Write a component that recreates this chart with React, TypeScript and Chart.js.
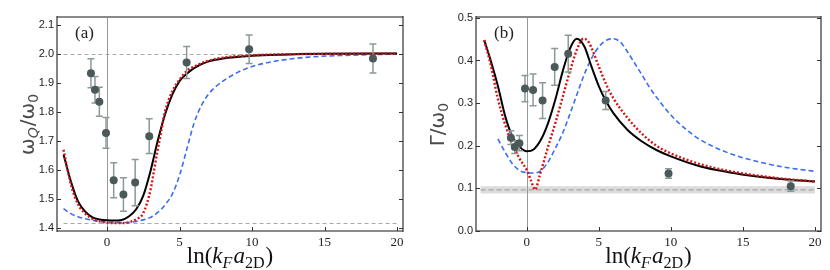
import React, { useEffect, useRef } from "react";
import { Chart, registerables } from "chart.js";
Chart.register(...registerables);

// ---------- Panel (a) data ----------
const A_EXP_X = [-1.11, -0.83, -0.53, -0.07, 0.46, 1.13, 1.94, 2.91, 5.49, 9.8, 18.34];
const A_EXP_Y = [1.932, 1.875, 1.834, 1.726, 1.563, 1.514, 1.555, 1.715, 1.969, 2.015, 1.983];
const A_EXP_ERR = [0.05, 0.046, 0.05, 0.053, 0.06, 0.058, 0.08, 0.06, 0.055, 0.049, 0.05];

const A_BLACK_X = [-3, -2.5, -2, -1.5, -1, -0.5, 0, 0.5, 1, 1.5, 2, 2.5, 3, 3.5, 4, 4.5, 5, 5.5, 6, 7, 8, 10, 12, 15, 20];
const A_BLACK_Y = [1.652, 1.56, 1.49, 1.455, 1.435, 1.428, 1.425, 1.424, 1.426, 1.438, 1.462, 1.51, 1.595, 1.7, 1.79, 1.858, 1.905, 1.93, 1.95, 1.973, 1.983, 1.992, 1.996, 1.999, 2.0];

const A_RED_X = [-3, -2.5, -2, -1.5, -1, -0.5, 0, 0.5, 1, 1.5, 2, 2.5, 3, 3.25, 3.5, 3.75, 4, 4.5, 5, 5.5, 6, 7, 8, 10, 15, 20];
const A_RED_Y = [1.668, 1.55, 1.48, 1.448, 1.43, 1.421, 1.417, 1.415, 1.415, 1.418, 1.428, 1.45, 1.53, 1.6, 1.67, 1.735, 1.8, 1.87, 1.91, 1.94, 1.955, 1.975, 1.986, 1.994, 1.999, 2.0];

const A_BLUE_X = [-3, -2.5, -2, -1.5, -1, 0, 1, 2, 3, 3.5, 4, 4.5, 5, 5.5, 6, 6.5, 7, 7.5, 8, 9, 10, 11, 12, 14, 16, 18, 20];
const A_BLUE_Y = [1.465, 1.448, 1.437, 1.43, 1.425, 1.418, 1.417, 1.421, 1.435, 1.452, 1.478, 1.515, 1.58, 1.67, 1.76, 1.82, 1.86, 1.886, 1.905, 1.935, 1.955, 1.968, 1.977, 1.988, 1.993, 1.996, 1.998];

const A_REF_LINES = [2.0, 1.414];
const A_Y_TICKS = [1.4, 1.5, 1.6, 1.7, 1.8, 1.9, 2.0, 2.1];

// ---------- Panel (b) data ----------
const B_EXP_X = [-1.1, -0.83, -0.51, -0.12, 0.44, 1.1, 1.94, 2.88, 5.48, 9.84, 18.32];
const B_EXP_Y = [0.219, 0.197, 0.206, 0.334, 0.331, 0.306, 0.385, 0.416, 0.306, 0.135, 0.105];
const B_EXP_ERR = [0.016, 0.015, 0.018, 0.031, 0.037, 0.042, 0.043, 0.043, 0.021, 0.011, 0.012];

const B_BLACK_X = [-2.95, -2.5, -2, -1.5, -1, -0.5, 0, 0.5, 1, 1.5, 2, 2.5, 3, 3.47, 4, 4.5, 5, 5.5, 6, 7, 8, 9, 10, 12, 14, 16, 18, 20];
const B_BLACK_Y = [0.448, 0.4, 0.34, 0.27, 0.222, 0.198, 0.187, 0.192, 0.215, 0.255, 0.31, 0.375, 0.428, 0.451, 0.433, 0.385, 0.34, 0.305, 0.277, 0.237, 0.21, 0.19, 0.175, 0.152, 0.138, 0.128, 0.121, 0.116];

const B_RED_X = [-2.95, -2.5, -2, -1.5, -1, -0.5, 0, 0.3, 0.58, 0.9, 1.5, 2, 2.5, 3, 3.5, 3.93, 4.3, 5, 5.5, 6, 7, 8, 9, 10, 12, 14, 16, 18, 20];
const B_RED_Y = [0.448, 0.39, 0.31, 0.25, 0.205, 0.17, 0.143, 0.118, 0.097, 0.13, 0.2, 0.255, 0.315, 0.375, 0.427, 0.451, 0.443, 0.386, 0.345, 0.312, 0.265, 0.228, 0.2, 0.182, 0.157, 0.141, 0.13, 0.122, 0.116];

const B_BLUE_X = [-2, -1.5, -1, -0.5, 0, 0.5, 1, 1.5, 2, 2.5, 3, 3.5, 4, 4.5, 5, 5.5, 5.95, 6.5, 7, 7.5, 8, 8.5, 9, 10, 11, 12, 14, 16, 18, 20];
const B_BLUE_Y = [0.216, 0.185, 0.158, 0.142, 0.137, 0.136, 0.142, 0.163, 0.195, 0.23, 0.275, 0.322, 0.368, 0.405, 0.432, 0.447, 0.451, 0.443, 0.42, 0.393, 0.366, 0.338, 0.314, 0.272, 0.24, 0.215, 0.183, 0.163, 0.149, 0.14];

const B_BAND = [0.088, 0.105];
const B_BAND_MID = 0.0965;
const B_BAND_X = [-3.2, 20];
const B_Y_TICKS = [0.0, 0.1, 0.2, 0.3, 0.4, 0.5];

const X_TICKS = [0, 5, 10, 15, 20];
const REF_X_RANGE = [-3, 20];

// ---------- helpers ----------
type Part = { t: string; it?: boolean; sub?: boolean };

function drawRich(ctx: CanvasRenderingContext2D, parts: Part[], family: string, size: number, x: number, y: number, color: string) {
  const subSize = size * 0.7;
  const fontOf = (p: Part) => `${p.it ? "italic " : ""}${p.sub ? subSize : size}px ${family}`;
  let total = 0;
  for (const p of parts) { ctx.font = fontOf(p); total += ctx.measureText(p.t).width + (p.sub ? 1 : 0); }
  let cx = x - total / 2;
  ctx.fillStyle = color;
  ctx.textBaseline = "alphabetic";
  ctx.textAlign = "left";
  for (const p of parts) {
    ctx.font = fontOf(p);
    ctx.fillText(p.t, cx, y + (p.sub ? size * 0.22 : 0));
    cx += ctx.measureText(p.t).width + (p.sub ? 1 : 0);
  }
}

const pts = (xs: number[], ys: number[]) => xs.map((x, i) => ({ x, y: ys[i] }));

type Spec = {
  label: string;
  xMin: number; xMax: number; yMin: number; yMax: number;
  yTicks: number[];
  expX: number[]; expY: number[]; expErr: number[];
  black: [number[], number[]]; red: [number[], number[]]; blue: [number[], number[]];
  refLines?: number[];
  band?: { lo: number; hi: number; mid: number; x: number[] };
  yTitle: Part[];
  padRight: number; yAxisW: number; yTitleX: number;
};

function makeConfig(s: Spec): any {
  const extras = {
    id: "extras",
    beforeDatasetsDraw(chart: any) {
      const { ctx, chartArea: ca, scales } = chart;
      const x = scales.x, y = scales.y;
      ctx.save();
      ctx.beginPath();
      ctx.rect(ca.left, ca.top, ca.right - ca.left, ca.bottom - ca.top);
      ctx.clip();
      if (s.band) {
        const x0 = x.getPixelForValue(s.band.x[0]), x1 = x.getPixelForValue(s.band.x[1]);
        const y0 = y.getPixelForValue(s.band.hi), y1 = y.getPixelForValue(s.band.lo);
        ctx.fillStyle = "#dcdcdc";
        ctx.fillRect(x0, y0, x1 - x0, y1 - y0);
        ctx.strokeStyle = "#999";
        ctx.lineWidth = 1;
        ctx.setLineDash([5, 3]);
        const ym = y.getPixelForValue(s.band.mid);
        ctx.beginPath(); ctx.moveTo(x0, ym); ctx.lineTo(x1, ym); ctx.stroke();
      }
      if (s.refLines) {
        ctx.strokeStyle = "#aaa";
        ctx.lineWidth = 1;
        ctx.setLineDash([4, 3]);
        for (const v of s.refLines) {
          const yy = Math.round(y.getPixelForValue(v)) + 0.5;
          ctx.beginPath();
          ctx.moveTo(x.getPixelForValue(REF_X_RANGE[0]), yy);
          ctx.lineTo(x.getPixelForValue(REF_X_RANGE[1]), yy);
          ctx.stroke();
        }
      }
      ctx.setLineDash([]);
      ctx.strokeStyle = "#999";
      ctx.lineWidth = 1;
      const x0p = Math.round(x.getPixelForValue(0)) + 0.5;
      ctx.beginPath(); ctx.moveTo(x0p, ca.top); ctx.lineTo(x0p, ca.bottom); ctx.stroke();
      ctx.restore();
    },
    beforeDatasetDraw(chart: any, args: any) {
      if (args.index !== 0) return;
      const { ctx, scales } = chart;
      const x = scales.x, y = scales.y;
      ctx.save();
      ctx.strokeStyle = "#8d9999";
      ctx.lineWidth = 1.5;
      s.expX.forEach((xv, i) => {
        const px = x.getPixelForValue(xv);
        const top = y.getPixelForValue(s.expY[i] + s.expErr[i]);
        const bot = y.getPixelForValue(s.expY[i] - s.expErr[i]);
        ctx.beginPath();
        ctx.moveTo(px, top); ctx.lineTo(px, bot);
        ctx.moveTo(px - 3.5, top); ctx.lineTo(px + 3.5, top);
        ctx.moveTo(px - 3.5, bot); ctx.lineTo(px + 3.5, bot);
        ctx.stroke();
      });
      ctx.restore();
    },
    afterDraw(chart: any) {
      const { ctx, chartArea: ca, scales } = chart;
      const x = scales.x, y = scales.y;
      ctx.save();
      // frame
      ctx.strokeStyle = "#8a8a8a";
      ctx.lineWidth = 2;
      ctx.beginPath();
      ctx.moveTo(ca.left, ca.top); ctx.lineTo(ca.right, ca.top);
      ctx.moveTo(ca.left, ca.bottom); ctx.lineTo(ca.right, ca.bottom);
      ctx.stroke();
      ctx.strokeStyle = "#333";
      ctx.lineWidth = 1.2;
      ctx.beginPath();
      ctx.moveTo(ca.left, ca.top - 1); ctx.lineTo(ca.left, ca.bottom + 1);
      ctx.moveTo(ca.right, ca.top - 1); ctx.lineTo(ca.right, ca.bottom + 1);
      ctx.stroke();
      // inward ticks
      ctx.lineWidth = 1;
      ctx.strokeStyle = "#333";
      ctx.beginPath();
      for (const v of s.yTicks) {
        const py = Math.round(y.getPixelForValue(v)) + 0.5;
        ctx.moveTo(ca.left, py); ctx.lineTo(ca.left + 4, py);
        ctx.moveTo(ca.right, py); ctx.lineTo(ca.right - 4, py);
      }
      for (const v of X_TICKS) {
        const px = Math.round(x.getPixelForValue(v)) + 0.5;
        ctx.moveTo(px, ca.bottom); ctx.lineTo(px, ca.bottom - 4);
      }
      ctx.stroke();
      // panel label
      ctx.fillStyle = "#222";
      ctx.font = "17px 'Liberation Serif'";
      ctx.textAlign = "left";
      ctx.textBaseline = "alphabetic";
      ctx.fillText(s.label, ca.left + 18, ca.top + 21);
      // x title
      drawRich(ctx, [
        { t: "ln(" }, { t: "k", it: true }, { t: "F", it: true, sub: true },
        { t: "a", it: true }, { t: "2D", sub: true }, { t: ")" },
      ], "'Liberation Serif'", 23, (ca.left + ca.right) / 2, 263, "#111");
      // y title
      ctx.translate(s.yTitleX, (ca.top + ca.bottom) / 2);
      ctx.rotate(-Math.PI / 2);
      drawRich(ctx, s.yTitle, "'DejaVu Sans'", 20, 0, 7, "#4a4a4a");
      ctx.restore();
    },
  };

  const line = (d: [number[], number[]], color: string, width: number, dash: number[]) => ({
    type: "line",
    data: pts(d[0], d[1]),
    borderColor: color,
    borderWidth: width,
    borderDash: dash,
    pointRadius: 0,
    cubicInterpolationMode: "monotone",
    fill: false,
  });

  return {
    type: "line",
    data: {
      datasets: [
        {
          type: "line",
          showLine: false,
          data: pts(s.expX, s.expY),
          pointRadius: 4,
          pointBackgroundColor: "#4b5959",
          pointBorderColor: "#4b5959",
          pointBorderWidth: 0,
        },
        line(s.red, "#d41515", 2.4, [2, 2]),
        line(s.black, "#000", 2, []),
        line(s.blue, "#3a6df0", 1.6, [5, 3]),
      ],
    },
    options: {
      animation: false,
      responsive: false,
      devicePixelRatio: 1,
      layout: { padding: { left: 0, right: s.padRight, top: 17, bottom: 0 } },
      plugins: { legend: { display: false }, tooltip: { enabled: false } },
      scales: {
        x: {
          type: "linear",
          min: s.xMin,
          max: s.xMax,
          afterBuildTicks: (sc: any) => { sc.ticks = X_TICKS.map((v) => ({ value: v })); },
          afterFit: (sc: any) => { sc.height = 39; },
          grid: { display: false, drawTicks: false },
          border: { display: false },
          ticks: {
            padding: 4,
            color: "#222",
            font: { family: "'Liberation Serif'", size: 13 },
            maxRotation: 0,
            callback: (v: number) => String(v),
          },
        },
        y: {
          type: "linear",
          min: s.yMin,
          max: s.yMax,
          afterBuildTicks: (sc: any) => { sc.ticks = s.yTicks.map((v) => ({ value: v })); },
          afterFit: (sc: any) => { sc.width = s.yAxisW; },
          grid: { display: false, drawTicks: false },
          border: { display: false },
          ticks: {
            padding: 3,
            color: "#222",
            font: { family: "'Liberation Sans'", size: 11 },
            callback: (v: number) => v.toFixed(1),
          },
        },
      },
    },
    plugins: [extras],
  };
}

const SPEC_A: Spec = {
  label: "(a)",
  xMin: -3.45, xMax: 20.41, yMin: 1.388, yMax: 2.126,
  yTicks: A_Y_TICKS,
  expX: A_EXP_X, expY: A_EXP_Y, expErr: A_EXP_ERR,
  black: [A_BLACK_X, A_BLACK_Y], red: [A_RED_X, A_RED_Y], blue: [A_BLUE_X, A_BLUE_Y],
  refLines: A_REF_LINES,
  yTitle: [{ t: "ω" }, { t: "Q", it: true, sub: true }, { t: "/" }, { t: "ω" }, { t: "0", sub: true }],
  padRight: 12, yAxisW: 57, yTitleX: 27,
};

const SPEC_B: Spec = {
  label: "(b)",
  xMin: -3.52, xMax: 20.42, yMin: 0, yMax: 0.502,
  yTicks: B_Y_TICKS,
  expX: B_EXP_X, expY: B_EXP_Y, expErr: B_EXP_ERR,
  black: [B_BLACK_X, B_BLACK_Y], red: [B_RED_X, B_RED_Y], blue: [B_BLUE_X, B_BLUE_Y],
  band: { lo: B_BAND[0], hi: B_BAND[1], mid: B_BAND_MID, x: B_BAND_X },
  yTitle: [{ t: "Γ" }, { t: "/" }, { t: "ω" }, { t: "0", sub: true }],
  padRight: 9, yAxisW: 61, yTitleX: 22,
};

function Panel({ spec }: { spec: Spec }) {
  const ref = useRef<HTMLCanvasElement>(null);
  useEffect(() => {
    if (!ref.current) return;
    const chart = new Chart(ref.current, makeConfig(spec));
    return () => chart.destroy();
  }, [spec]);
  return <canvas ref={ref} width={415} height={270} style={{ display: "block", width: 415, height: 270 }} />;
}

export default function App() {
  return (
    <div style={{ position: "fixed", left: 0, top: 0, width: 830, height: 270, display: "flex", background: "#fff" }}>
      <Panel spec={SPEC_A} />
      <Panel spec={SPEC_B} />
    </div>
  );
}
